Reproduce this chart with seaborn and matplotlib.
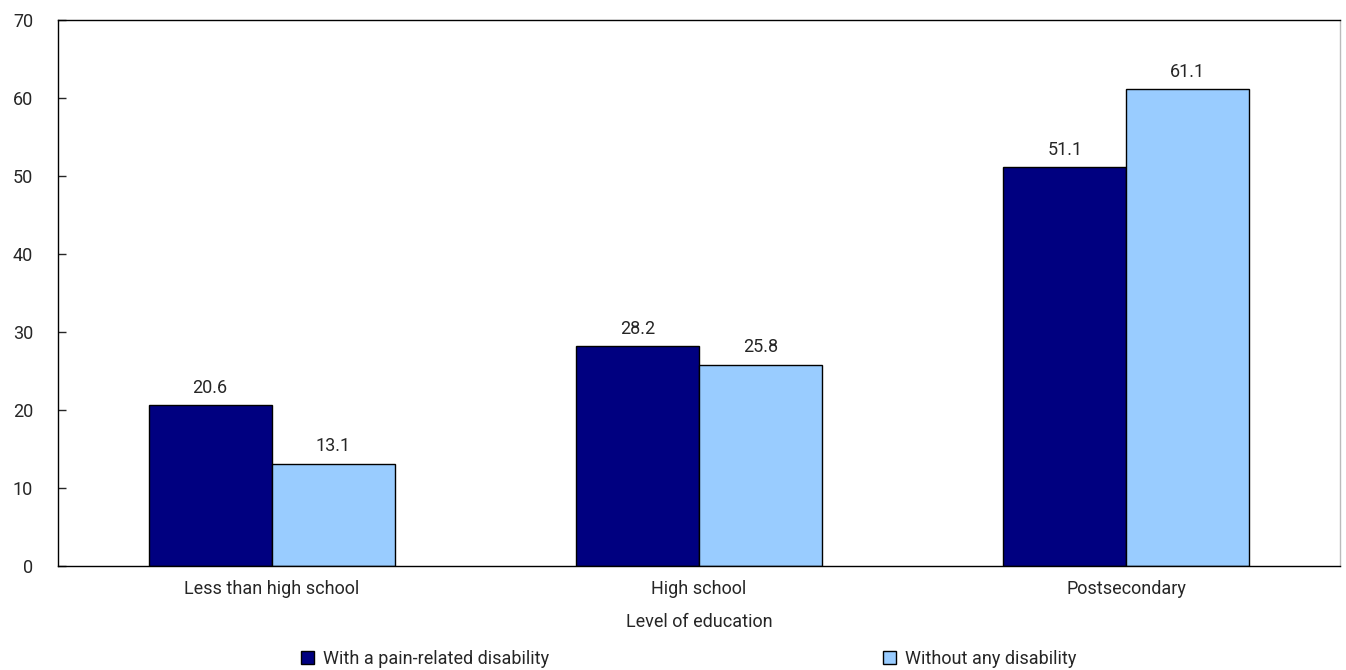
import matplotlib
matplotlib.use("Agg")
import matplotlib.pyplot as plt
import seaborn as sns
import pandas as pd
from matplotlib.font_manager import fontManager

categories = ["Less than high school", "High school", "Postsecondary"]
series_names = ["With a pain-related disability", "Without any disability"]
with_pain = [20.6, 28.2, 51.1]
without_dis = [13.1, 25.8, 61.1]
colors = ["#000080", "#99CCFF"]
yticks = [0, 10, 20, 30, 40, 50, 60, 70]

sns.set_style("white")
names = {f.name for f in fontManager.ttflist}
fam = "Liberation Sans Narrow" if "Liberation Sans Narrow" in names else "Roboto"
plt.rcParams["font.family"] = [fam, "DejaVu Sans"]
FS = 13

df = pd.DataFrame({
    "cat": categories * 2,
    "series": [series_names[0]] * 3 + [series_names[1]] * 3,
    "val": with_pain + without_dis,
})

fig = plt.figure(figsize=(13.46, 6.70), dpi=100)
ax = fig.add_axes([58/1346, 1 - 566/670, (1340-58)/1346, (566-20)/670])
sns.barplot(data=df, x="cat", y="val", hue="series", palette=colors,
            width=0.576, gap=0, edgecolor="black", linewidth=1, ax=ax,
            saturation=1, legend=True)
ax.set_ylim(0, 70)
ax.set_xlim(-0.5, 2.5)
ax.set_yticks(yticks)
ax.set_yticklabels([str(t) for t in yticks], fontsize=FS)
ax.tick_params(axis="y", direction="in", length=6, width=1, left=True, pad=18)
ax.tick_params(axis="x", length=0, pad=10, labelsize=FS)
ax.set_xlabel("Level of education", fontsize=FS, labelpad=11)
ax.set_ylabel("")
for s in ["left", "top", "bottom"]:
    ax.spines[s].set_color("black")
    ax.spines[s].set_linewidth(1)
ax.spines["right"].set_color("#bbbbbb")
ax.spines["right"].set_linewidth(1)

for cont in ax.containers:
    ax.bar_label(cont, fmt="%.1f", padding=6, fontsize=FS)

handles, labels = ax.get_legend_handles_labels()
ax.legend(handles, labels, loc="upper center", bbox_to_anchor=(0.492, -0.153),
          ncol=2, frameon=False, fontsize=FS, columnspacing=18.5,
          handlelength=0.7, handleheight=0.7, handletextpad=0.5,
          borderaxespad=0, borderpad=0)

fig.savefig("out.png", dpi=100)
